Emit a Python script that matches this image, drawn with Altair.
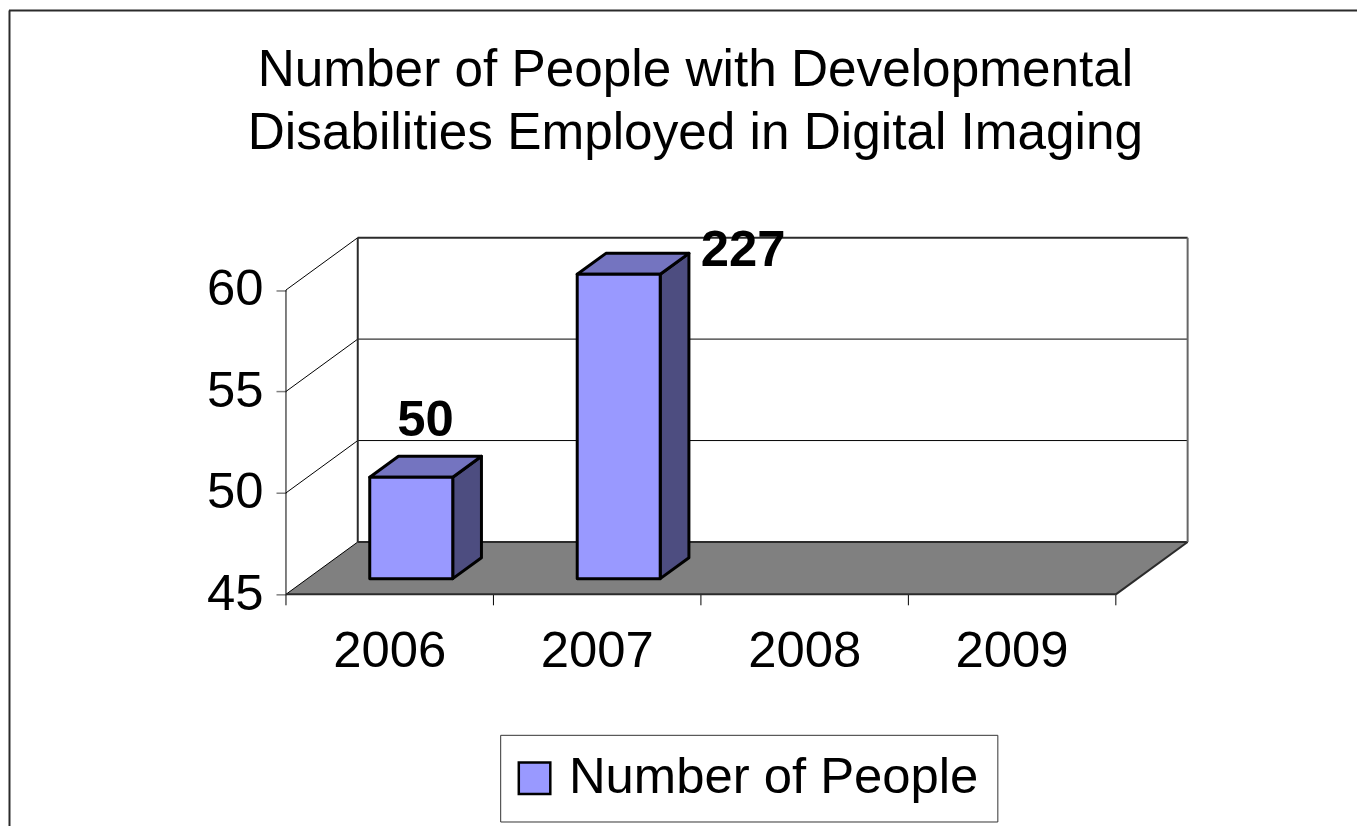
import altair as alt
import pandas as pd

# ---------------- data ----------------
title_lines = ["Number of People with Developmental",
               "Disabilities Employed in Digital Imaging"]
years = ["2006", "2007", "2008", "2009"]
people = [50, 227, None, None]
y_ticks = [45, 50, 55, 60]
series_name = "Number of People"
Y_MIN, Y_MAX = 45, 60

# ---------------- style: pseudo 3-D projection ----------------
DX = 0.346    # wall depth, in category units
DY = 2.58     # wall depth, in value units
FRONT = 0.3   # depth fraction of bar front
DEPTH = 0.4   # bar depth fraction
HALF = 0.2    # half bar width (category units)
W, H = 905, 358
FONT = "Liberation Sans"
n = len(years)
px_per_unit = H / (Y_MAX + DY - Y_MIN)

xscale = alt.Scale(domain=[0, n + DX], nice=False, zero=False)
yscale = alt.Scale(domain=[Y_MIN, Y_MAX + DY], nice=False, zero=False)
yaxis = alt.Axis(values=y_ticks, title=None, domain=False, grid=False, ticks=True,
                 tickColor="#808080", tickSize=10, tickWidth=1.5,
                 labelFontSize=51, labelFont=FONT, labelColor="black",
                 labelPadding=13, labelOverlap=False)


def X(f):
    return alt.X(f, type="quantitative", scale=xscale, axis=None)


def Y(f):
    return alt.Y(f, type="quantitative", scale=yscale, axis=yaxis)


def segs(rows):
    return pd.DataFrame(rows, columns=["x", "y", "x2", "y2"])


# ---------- walls, floor, grid ----------
floor = pd.DataFrame({"y": [Y_MIN, Y_MIN + DY], "x": [0, DX], "x2": [n, n + DX]})

thin_rows = []
for v in y_ticks[1:-1]:
    thin_rows.append((DX, v + DY, n + DX, v + DY))
for v in y_ticks:
    thin_rows.append((0, v, DX, v + DY))
thin_rows.append((0, Y_MIN, 0, Y_MAX))
tick_len = 11 / px_per_unit
for i in range(n + 1):
    thin_rows.append((i, Y_MIN, i, Y_MIN - tick_len))

dark_rows = [
    (DX, Y_MAX + DY, n + DX, Y_MAX + DY),
    (DX, Y_MIN + DY, DX, Y_MAX + DY),
    (DX, Y_MIN + DY, n + DX, Y_MIN + DY),
    (0, Y_MIN, n, Y_MIN),
    (n, Y_MIN, n + DX, Y_MIN + DY),
]
gray_rows = [(n + DX, Y_MIN + DY, n + DX, Y_MAX + DY)]

# ---------- bars ----------
front_rows, top_rows, side_rows, lab_rows = [], [], [], []
bdx, bdy = DEPTH * DX, DEPTH * DY
for i, (yr, v) in enumerate(zip(years, people)):
    if v is None:
        continue
    top = min(v, Y_MAX)
    xl = i + 0.5 - HALF + FRONT * DX
    xr = i + 0.5 + HALF + FRONT * DX
    yb = Y_MIN + FRONT * DY
    yt = top + FRONT * DY
    front_rows.append({"year": yr, "series": series_name, "x": xl, "x2": xr, "y": yb, "y2": yt})
    top_rows += [{"year": yr, "y": yt, "x": xl, "x2": xr},
                 {"year": yr, "y": yt + bdy, "x": xl + bdx, "x2": xr + bdx}]
    side_rows += [{"year": yr, "x": xr, "y": yb, "y2": yt},
                  {"year": yr, "x": xr + bdx, "y": yb + bdy, "y2": yt + bdy}]
    clipped = v > Y_MAX
    if clipped:
        lab_rows.append({"x": xr + bdx, "y": yt + bdy, "t": str(v), "clip": True})
    else:
        lab_rows.append({"x": i + 0.5 + (FRONT + DEPTH / 2) * DX, "y": yt + bdy, "t": str(v), "clip": False})

front = pd.DataFrame(front_rows)
topf = pd.DataFrame(top_rows)
side = pd.DataFrame(side_rows)
labs = pd.DataFrame(lab_rows)
cats = pd.DataFrame({"year": years, "x": [i + 0.5 for i in range(n)], "y": [Y_MIN] * n})
one = pd.DataFrame({"a": [0]})

layers = []
layers.append(alt.Chart(floor).mark_area(orient="horizontal", color="#808080")
              .encode(y=Y("y"), x=X("x"), x2="x2"))
layers.append(alt.Chart(segs(thin_rows)).mark_rule(color="black", strokeWidth=1)
              .encode(x=X("x"), y=Y("y"), x2="x2", y2="y2"))
layers.append(alt.Chart(segs(dark_rows)).mark_rule(color="#2b2b2b", strokeWidth=2)
              .encode(x=X("x"), y=Y("y"), x2="x2", y2="y2"))
layers.append(alt.Chart(segs(gray_rows)).mark_rule(color="#666666", strokeWidth=2)
              .encode(x=X("x"), y=Y("y"), x2="x2", y2="y2"))
layers.append(alt.Chart(side).mark_area(orient="vertical", color="#4D4D80", stroke="black",
                                        strokeWidth=3, strokeJoin="round")
              .encode(x=X("x"), y=Y("y"), y2="y2", detail="year:N"))
layers.append(alt.Chart(topf).mark_area(orient="horizontal", color="#7474C0", stroke="black",
                                        strokeWidth=3, strokeJoin="round")
              .encode(y=Y("y"), x=X("x"), x2="x2", detail="year:N"))
layers.append(alt.Chart(front).mark_rect(stroke="black", strokeWidth=3, strokeJoin="round")
              .encode(x=X("x"), x2="x2", y=Y("y"), y2="y2",
                      color=alt.Color("series:N", scale=alt.Scale(range=["#9999FF"]),
                                      legend=alt.Legend(
                                          title=None, orient="none", legendX=215, legendY=499,
                                          symbolType="square", symbolSize=1000,
                                          symbolStrokeColor="black", symbolStrokeWidth=2.5,
                                          symbolFillColor="#9999FF", symbolOffset=-9,
                                          labelFontSize=51, labelFont=FONT, labelColor="black",
                                          labelLimit=600, labelOffset=9,
                                          strokeColor="#333333", fillColor="white",
                                          padding=18))))
layers.append(alt.Chart(labs[~labs["clip"]]).mark_text(fontSize=51, font=FONT, fontWeight="bold",
                                                       align="center", baseline="alphabetic", dy=-20,
                                                       color="black")
              .encode(x=X("x"), y=Y("y"), text="t:N"))
layers.append(alt.Chart(labs[labs["clip"]]).mark_text(fontSize=51, font=FONT, fontWeight="bold",
                                                      align="left", baseline="alphabetic", dx=12, dy=13,
                                                      color="black")
              .encode(x=X("x"), y=Y("y"), text="t:N"))
layers.append(alt.Chart(cats).mark_text(fontSize=51, font=FONT, align="center",
                                        baseline="alphabetic", dy=73, color="black")
              .encode(x=X("x"), y=Y("y"), text="year:N"))
# title lines
for line, ty in zip(title_lines, [-152, -89]):
    layers.append(alt.Chart(one).mark_text(text=line, fontSize=51.5, font=FONT, align="center",
                                           baseline="alphabetic", color="black")
                  .encode(x=alt.value(411), y=alt.value(ty)))
# outer frame lines
layers.append(alt.Chart(one).mark_rule(color="#2b2b2b", strokeWidth=2)
              .encode(x=alt.value(-277.5), y=alt.value(-228), y2=alt.value(H + 245)))
layers.append(alt.Chart(one).mark_rule(color="#2b2b2b", strokeWidth=2)
              .encode(x=alt.value(-278), x2=alt.value(W + 180), y=alt.value(-228)))

chart = (alt.layer(*layers)
         .properties(width=W, height=H, background="white",
                     padding={"left": 279, "top": 229, "right": 170, "bottom": 231},
                     autosize=alt.AutoSizeParams(type="none"))
         .configure_view(stroke=None))

chart.save("out.html", embed_options={"renderer": "svg", "actions": False})
